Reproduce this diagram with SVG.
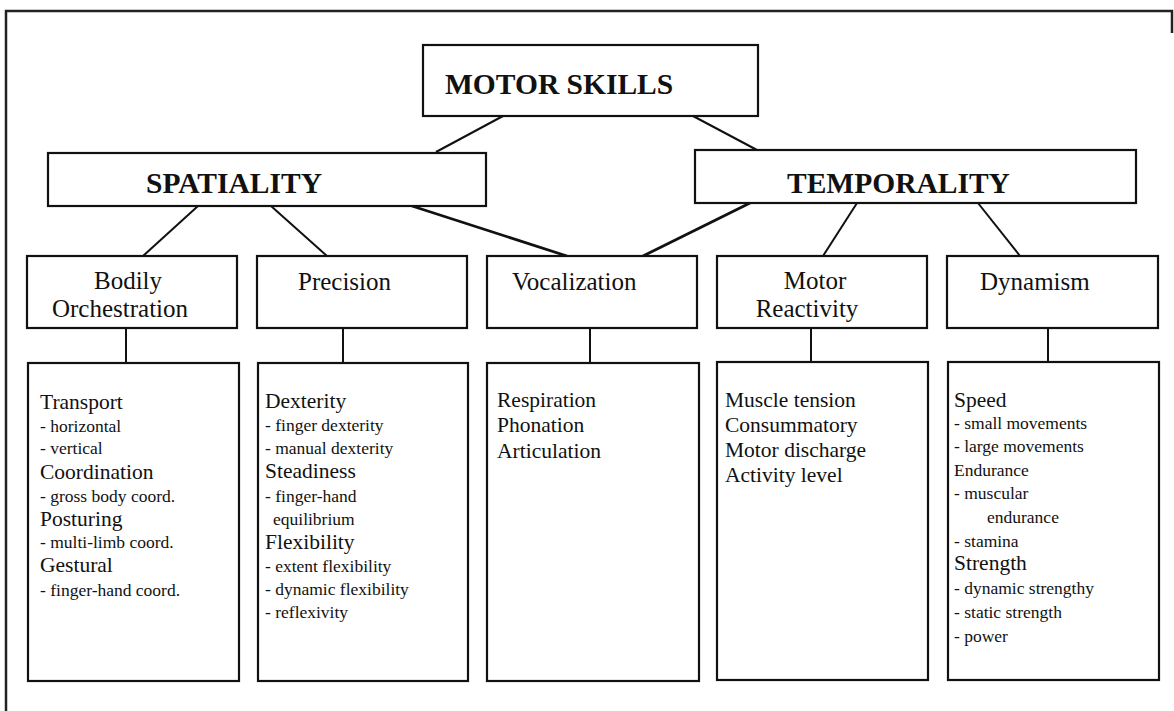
<svg xmlns="http://www.w3.org/2000/svg" width="1174" height="711" viewBox="0 0 1174 711">
<style>
  .box { fill: #ffffff; stroke: #111111; stroke-width: 2.2; }
  .conn { stroke: #111111; stroke-width: 2; fill: none; }
  .conn-thick { stroke: #111111; stroke-width: 2.8; fill: none; }
  .frame { stroke: #222222; stroke-width: 2.5; fill: none; }
  text { font-family: "Liberation Serif", "Times New Roman", serif; fill: #111111; }
  .t1 { font-size: 29.5px; font-weight: bold; }
  .t2 { font-size: 25px; }
  .h { font-size: 21.5px; }
  .s { font-size: 17.5px; }
</style>
<rect x="0" y="0" width="1174" height="711" fill="#ffffff"/>
<path class="frame" d="M6,711 V11 H1172 V33"/>

<g id="connectors">
  <line class="conn" x1="503" y1="116" x2="436" y2="152"/>
  <line class="conn" x1="693" y1="116" x2="757" y2="150"/>
  <line class="conn" x1="198" y1="206" x2="143" y2="256"/>
  <line class="conn" x1="271" y1="206" x2="327" y2="256"/>
  <line class="conn-thick" x1="412" y1="206" x2="567" y2="256"/>
  <line class="conn-thick" x1="750" y1="203" x2="643" y2="256"/>
  <line class="conn" x1="857" y1="203" x2="823" y2="256"/>
  <line class="conn" x1="978" y1="203" x2="1020" y2="256"/>
  <line class="conn" x1="126" y1="328" x2="126" y2="363"/>
  <line class="conn" x1="343" y1="328" x2="343" y2="363"/>
  <line class="conn" x1="590" y1="328" x2="590" y2="363"/>
  <line class="conn" x1="811" y1="328" x2="811" y2="363"/>
  <line class="conn" x1="1048" y1="328" x2="1048" y2="362"/>
</g>

<g id="motor-skills">
  <rect class="box" x="423" y="45" width="335" height="71"/>
  <text class="t1" x="445" y="94">MOTOR SKILLS</text>
</g>
<g id="spatiality">
  <rect class="box" x="48" y="153" width="438" height="53"/>
  <text class="t1" x="146" y="193">SPATIALITY</text>
</g>
<g id="temporality">
  <rect class="box" x="695" y="150" width="441" height="53"/>
  <text class="t1" x="787" y="193">TEMPORALITY</text>
</g>

<g id="bodily-orchestration">
  <rect class="box" x="27" y="256" width="210" height="72"/>
  <text class="t2" x="128" y="289" text-anchor="middle">Bodily</text>
  <text class="t2" x="120" y="317" text-anchor="middle">Orchestration</text>
</g>
<g id="precision">
  <rect class="box" x="257" y="256" width="210" height="72"/>
  <text class="t2" x="298" y="290">Precision</text>
</g>
<g id="vocalization">
  <rect class="box" x="487" y="256" width="210" height="72"/>
  <text class="t2" x="512" y="290">Vocalization</text>
</g>
<g id="motor-reactivity">
  <rect class="box" x="717" y="256" width="210" height="72"/>
  <text class="t2" x="815" y="289" text-anchor="middle">Motor</text>
  <text class="t2" x="807" y="317" text-anchor="middle">Reactivity</text>
</g>
<g id="dynamism">
  <rect class="box" x="947" y="256" width="211" height="72"/>
  <text class="t2" x="980" y="290">Dynamism</text>
</g>

<g id="bodily-details">
  <rect class="box" x="28" y="363" width="211" height="318"/>
  <text class="h" x="40" y="409">Transport</text>
  <text class="s" x="40" y="432">- horizontal</text>
  <text class="s" x="40" y="454">- vertical</text>
  <text class="h" x="40" y="479">Coordination</text>
  <text class="s" x="40" y="502">- gross body coord.</text>
  <text class="h" x="40" y="526">Posturing</text>
  <text class="s" x="40" y="548">- multi-limb coord.</text>
  <text class="h" x="40" y="572">Gestural</text>
  <text class="s" x="40" y="596">- finger-hand coord.</text>
</g>
<g id="precision-details">
  <rect class="box" x="258" y="363" width="210" height="318"/>
  <text class="h" x="265" y="408">Dexterity</text>
  <text class="s" x="265" y="431">- finger dexterity</text>
  <text class="s" x="265" y="454">- manual dexterity</text>
  <text class="h" x="265" y="478">Steadiness</text>
  <text class="s" x="265" y="502">- finger-hand</text>
  <text class="s" x="273" y="525">equilibrium</text>
  <text class="h" x="265" y="549">Flexibility</text>
  <text class="s" x="265" y="572">- extent flexibility</text>
  <text class="s" x="265" y="595">- dynamic flexibility</text>
  <text class="s" x="265" y="618">- reflexivity</text>
</g>
<g id="vocalization-details">
  <rect class="box" x="487" y="363" width="212" height="318"/>
  <text class="h" x="497" y="407">Respiration</text>
  <text class="h" x="497" y="432">Phonation</text>
  <text class="h" x="497" y="458">Articulation</text>
</g>
<g id="motor-reactivity-details">
  <rect class="box" x="717" y="362" width="211" height="318"/>
  <text class="h" x="725" y="407">Muscle tension</text>
  <text class="h" x="725" y="432">Consummatory</text>
  <text class="h" x="725" y="457">Motor discharge</text>
  <text class="h" x="725" y="482">Activity level</text>
</g>
<g id="dynamism-details">
  <rect class="box" x="948" y="362" width="211" height="318"/>
  <text class="h" x="954" y="407">Speed</text>
  <text class="s" x="954" y="429">- small movements</text>
  <text class="s" x="954" y="452">- large movements</text>
  <text class="s" x="954" y="476">Endurance</text>
  <text class="s" x="954" y="499">- muscular</text>
  <text class="s" x="987" y="523">endurance</text>
  <text class="s" x="954" y="547">- stamina</text>
  <text class="h" x="954" y="570">Strength</text>
  <text class="s" x="954" y="594">- dynamic strengthy</text>
  <text class="s" x="954" y="618">- static strength</text>
  <text class="s" x="954" y="642">- power</text>
</g>
</svg>
